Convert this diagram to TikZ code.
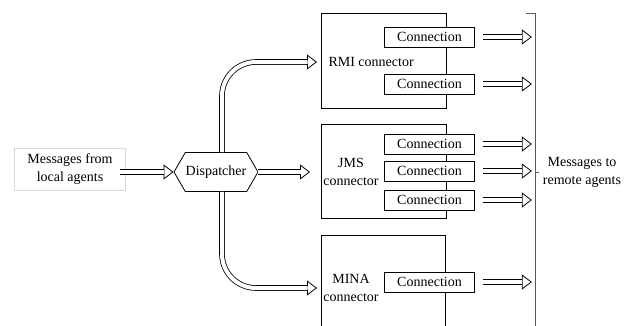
\documentclass[tikz,border=0pt]{standalone}
\usepackage{fontspec}
\setmainfont{Liberation Serif}
\usetikzlibrary{arrows.meta,shapes.symbols}

\begin{document}
\begin{tikzpicture}[x=1pt, y=-1pt,
        font=\fontsize{14}{18}\selectfont,
        srcbox/.style={rectangle, draw=gray!30, minimum width=111pt, minimum height=42pt, align=center},
        dispbox/.style={signal, signal to=west and east, signal pointer angle=120, draw, thick,
                       minimum width=84pt, minimum height=39pt, inner sep=0pt},
        connbox/.style={rectangle, draw, thick, anchor=north west},
        connection/.style={rectangle, draw, thick, fill=white, minimum width=90pt, minimum height=20pt, inner sep=0pt},
        hollow/.style={draw=white, line width=0.8pt,
                      -{Triangle[color=black, fill=white, length=10pt, width=15pt]},
                      postaction={draw=black, double=white, double distance=4pt, line width=0.8pt,
                                  shorten >=9.5pt, -}}
    ]
        \useasboundingbox (0,0) rectangle (627,325);
        \clip (0,0) rectangle (627,325);

        % Source and dispatcher
        \node[srcbox] (local) at (70,169) {Messages from\\local agents};
        \node[dispbox] (disp) at (216,172) {Dispatcher};

        % Connector boxes
        \node[connbox, minimum width=125pt, minimum height=95pt] (rmi) at (321,13) {};
        \node[connbox, minimum width=125pt, minimum height=94pt] (jms) at (321,124) {};
        \node[connbox, minimum width=124pt, minimum height=120pt] (mina) at (321,235) {};

        % Connector labels
        \node[anchor=west] (rmilabel) at (325,62) {RMI connector};
        \node[align=center] (jmslabel) at (351,172) {JMS\\connector};
        \node[align=center] (minalabel) at (351,288) {MINA\\connector};

        % Connections
        \node[connection] (c1) at (429.5,37) {Connection};
        \node[connection] (c2) at (429.5,84) {Connection};
        \node[connection] (c3) at (429.5,144) {Connection};
        \node[connection] (c4) at (429.5,171) {Connection};
        \node[connection] (c5) at (429.5,200) {Connection};
        \node[connection] (c6) at (429.5,282) {Connection};

        % Remote side bracket and label
        \coordinate (top) at (526,13);
        \coordinate (corner) at (535,13);
        \coordinate (bottom) at (535,330);
        \coordinate (tick) at (535,172);
        \node[align=center] (remote) at (582,172) {Messages to\\remote agents};
        \draw[gray!70!black] (top) -- (corner) -- (bottom);
        \draw[gray!70!black] (tick) -- (remote.west);

        % Hollow arrows into and out of the dispatcher
        \draw[hollow] ([xshift=-6pt]local.east |- disp.west) -- (disp.west);
        \draw[hollow] (disp.east) -- ([xshift=-11pt]jms.west |- disp.east);
        \draw[hollow, rounded corners=34pt] ([xshift=6pt]disp.north) |- ([xshift=-4pt]rmi.west |- rmilabel);
        \draw[hollow, rounded corners=34pt] ([xshift=6pt]disp.south) |- ([xshift=-4pt]mina.west |- minalabel);

        % Hollow arrows out of the connections
        \foreach \c in {c1,c2,c3,c4,c5,c6}
            \draw[hollow] ([xshift=8pt]\c.east) -- ([xshift=57pt]\c.east);

    \end{tikzpicture}
\end{document}
